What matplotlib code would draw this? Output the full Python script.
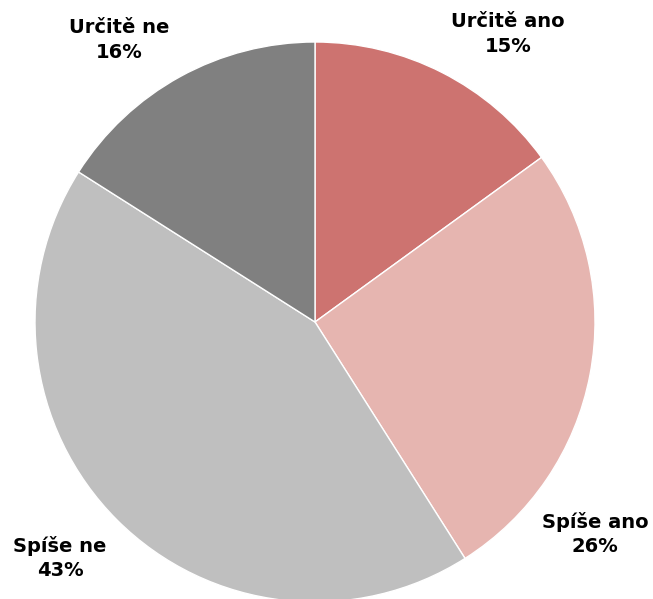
import matplotlib.pyplot as plt

labels = ['Určitě ano', 'Spíše ano', 'Spíše ne', 'Určitě ne']
values = [15, 26, 43, 16]
colors = ['#CD7370', '#E6B5B0', '#BFBFBF', '#808080']

# label anchor points (pixels from bottom-left)
label_pos = [(508, 565), (595, 65), (60, 41), (119, 559)]

fig = plt.figure(figsize=(6.53, 5.99), dpi=100)
ax = fig.add_axes([0, 0, 1, 1])
ax.set_xlim(0, 653)
ax.set_ylim(0, 599)
ax.set_aspect('equal')
ax.axis('off')

ax.pie(values, colors=colors, startangle=90, counterclock=False,
       center=(315, 277), radius=280,
       wedgeprops=dict(edgecolor='white', linewidth=1))
ax.set_xlim(0, 653)
ax.set_ylim(0, 599)

for lab, v, (x, y) in zip(labels, values, label_pos):
    ax.text(x, y, f'{lab}\n{v}%', ha='center', va='center',
            fontsize=14, fontweight='bold', family='DejaVu Sans',
            linespacing=1.35)

fig.savefig('out.png', dpi=100)
